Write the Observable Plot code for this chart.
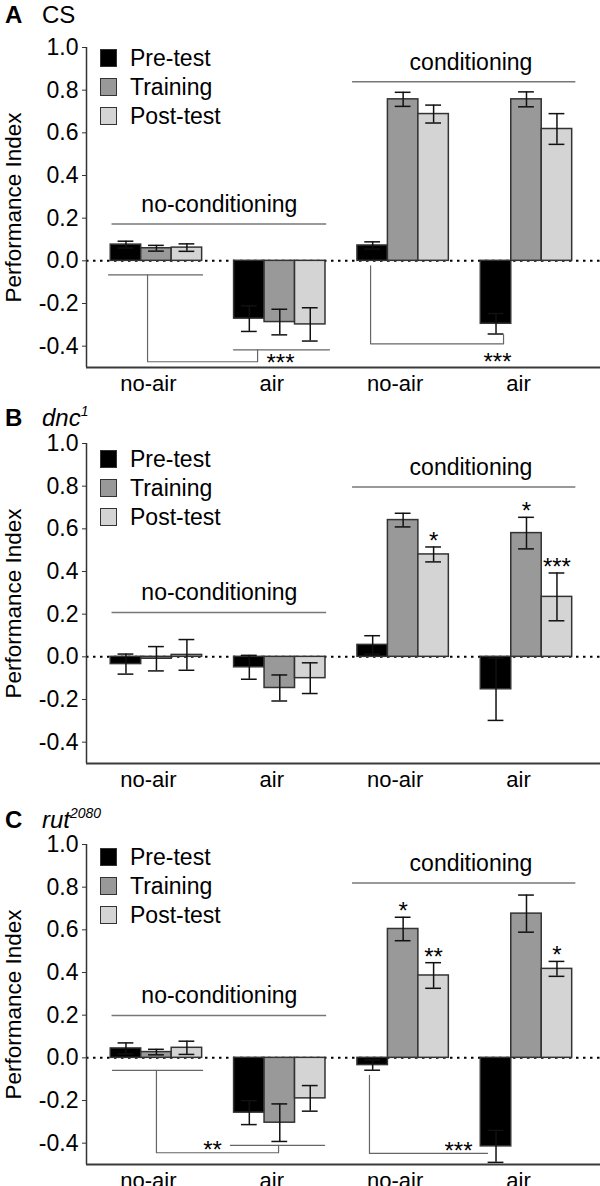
<!DOCTYPE html>
<html><head><meta charset="utf-8">
<script src="https://cdn.jsdelivr.net/npm/d3@7"></script>
<script src="https://cdn.jsdelivr.net/npm/@observablehq/plot@0.6"></script>
<style>
body{margin:0;background:#fff;}
#root{position:relative;width:600px;height:1186px;overflow:hidden;font-family:Arial,"Liberation Sans",sans-serif;color:#000;}
.title{position:absolute;left:5px;font-size:24px;line-height:24px;white-space:nowrap;}
.title b{display:inline-block;width:37px;}
.title sup{font-size:14px;position:relative;top:-10px;vertical-align:baseline;}
.row{position:absolute;left:100px;height:29px;display:flex;align-items:center;white-space:nowrap;font-size:23px;}
.sw{box-sizing:border-box;width:17px;height:18px;border:1.5px solid #333;margin-right:13px;}
.panel{position:absolute;left:0;}
</style></head>
<body><div id="root"></div>
<script>
// ---------- data ----------
const groups = ["no-air", "air", "no-air", "air"];
const series = ["Pre-test", "Training", "Post-test"];
const colors = ["#000000", "#999999", "#d4d4d4"];
const yTicks = [-0.4, -0.2, 0.0, 0.2, 0.4, 0.6, 0.8, 1.0];
const headerLabels = ["no-conditioning", "conditioning"];
const headerSpan = [[-0.36, 1.38], [1.59, 3.40]];
const headerTextX = [0.51, 2.55];

// Panel A (CS): rows = groups, columns = series
const meanA = [[0.076, 0.059, 0.062], [-0.271, -0.287, -0.298], [0.072, 0.757, 0.688], [-0.295, 0.757, 0.618]];
const semA  = [[0.016, 0.0135, 0.0175], [0.060, 0.060, 0.078], [0.017, 0.033, 0.042], [0.048, 0.035, 0.072]];
const headA = [0.173, 0.839];
const starsA = [];
const bracketA = [
  {id: 0, x: -0.388, y: -0.066}, {id: 0, x: 0.374, y: -0.066},
  {id: 1, x: -0.072, y: -0.066}, {id: 1, x: -0.072, y: -0.473}, {id: 1, x: 0.820, y: -0.473}, {id: 1, x: 0.820, y: -0.417},
  {id: 2, x: 0.625, y: -0.417}, {id: 2, x: 1.403, y: -0.417},
  {id: 3, x: 1.736, y: -0.023}, {id: 3, x: 1.736, y: -0.389}, {id: 3, x: 2.814, y: -0.389}, {id: 3, x: 2.814, y: -0.347}
];
const bracketTextA = [{x: 1.006, y: -0.453, label: "***"}, {x: 2.765, y: -0.448, label: "***"}];

// Panel B (dnc1)
const meanB = [[-0.034, -0.009, 0.009], [-0.049, -0.146, -0.100], [0.056, 0.641, 0.480], [-0.152, 0.580, 0.281]];
const semB  = [[0.047, 0.057, 0.072], [0.056, 0.061, 0.072], [0.043, 0.032, 0.035], [0.146, 0.074, 0.112]];
const headB = [0.208, 0.796];
const starsB = [{g: 2, s: 2, label: "*"}, {g: 3, s: 1, label: "*"}, {g: 3, s: 2, label: "***"}];
const bracketB = [];
const bracketTextB = [];

// Panel C (rut2080)
const meanC = [[0.044, 0.027, 0.047], [-0.257, -0.304, -0.190], [-0.034, 0.604, 0.386], [-0.415, 0.676, 0.417]];
const semC  = [[0.026, 0.013, 0.031], [0.056, 0.088, 0.060], [0.024, 0.055, 0.060], [0.075, 0.087, 0.035]];
const headC = [0.199, 0.819];
const starsC = [{g: 2, s: 1, label: "*"}, {g: 2, s: 2, label: "**"}, {g: 3, s: 2, label: "*"}];
const bracketC = [
  {id: 0, x: -0.356, y: -0.059}, {id: 0, x: 0.374, y: -0.059},
  {id: 1, x: 0.0, y: -0.059}, {id: 1, x: 0.0, y: -0.445}, {id: 1, x: 0.990, y: -0.445}, {id: 1, x: 0.990, y: -0.410},
  {id: 2, x: 0.599, y: -0.410}, {id: 2, x: 1.363, y: -0.410},
  {id: 3, x: 1.727, y: -0.082}, {id: 3, x: 1.727, y: -0.448}, {id: 3, x: 2.684, y: -0.448}
];
const bracketTextC = [{x: 0.455, y: -0.405, label: "**"}, {x: 2.449, y: -0.407, label: "***"}];

// ---------- layout ----------
const BW = 0.247, CAP = 0.064;
const XD = [-0.567, 3.6];
const FONT = 'Arial, "Liberation Sans", sans-serif';

const panels = [
  {top: 16.7, titleTop: 3, letter: "A", name: "CS", italic: false, sup: "", legendTop: 58, mean: meanA, sem: semA, head: headA, stars: starsA, br: bracketA, brt: bracketTextA},
  {top: 413.3, titleTop: 406, letter: "B", name: "dnc", italic: true, sup: "1", legendTop: 459, mean: meanB, sem: semB, head: headB, stars: starsB, br: bracketB, brt: bracketTextB},
  {top: 814, titleTop: 808, letter: "C", name: "rut", italic: true, sup: "2080", legendTop: 857, mean: meanC, sem: semC, head: headC, stars: starsC, br: bracketC, brt: bracketTextC}
];

const root = document.getElementById("root");

function makePlot(p) {
  const rows = [];
  p.mean.forEach((r, g) => r.forEach((v, s) => rows.push({
    g, s, series: series[s], v, e: p.sem[g][s],
    x1: g + (s - 1.5) * BW, x2: g + (s - 0.5) * BW, xc: g + (s - 1) * BW
  })));
  const starRows = p.stars.map(d => {
    const r = rows.find(q => q.g === d.g && q.s === d.s);
    return {x: r.xc, y: r.v + r.e, label: d.label};
  });
  const heads = headerLabels.map((label, i) => ({label, y: p.head[i], x1: headerSpan[i][0], x2: headerSpan[i][1], xt: headerTextX[i]}));
  return Plot.plot({
    width: 600, height: 384,
    marginTop: 30, marginBottom: 34, marginLeft: 86, marginRight: 0,
    style: {fontFamily: FONT, fontSize: "22px", color: "#000", background: "transparent", overflow: "visible"},
    x: {domain: XD, axis: null},
    y: {domain: [-0.5, 1.0], axis: null},
    color: {domain: series, range: colors},
    marks: [
      Plot.ruleY([0], {stroke: "#000", strokeWidth: 2, strokeDasharray: "2.5,4.5"}),
      Plot.rect(rows, {x1: "x1", x2: "x2", y1: 0, y2: "v", fill: "series", stroke: "#333", strokeWidth: 1.5}),
      Plot.ruleX(rows, {x: "xc", y1: d => d.v - d.e, y2: d => d.v + d.e, stroke: "#111", strokeWidth: 1.5}),
      Plot.ruleY(rows, {y: d => d.v + d.e, x1: d => d.xc - CAP, x2: d => d.xc + CAP, stroke: "#111", strokeWidth: 1.5}),
      Plot.ruleY(rows, {y: d => d.v - d.e, x1: d => d.xc - CAP, x2: d => d.xc + CAP, stroke: "#111", strokeWidth: 1.5}),
      Plot.text(starRows, {x: "x", y: "y", text: "label", lineAnchor: "bottom", dy: 2, fontSize: 24, fill: "#000"}),
      Plot.ruleY(heads, {y: "y", x1: "x1", x2: "x2", stroke: "#777", strokeWidth: 1.5}),
      Plot.text(heads, {x: "xt", y: "y", text: "label", lineAnchor: "bottom", dy: -12, fontSize: 23, fill: "#000"}),
      Plot.line(p.br, {x: "x", y: "y", z: "id", stroke: "#666", strokeWidth: 1.2, curve: "linear"}),
      Plot.text(p.brt, {x: "x", y: "y", text: "label", lineAnchor: "bottom", dy: 14, fontSize: 24, fill: "#000"}),
      Plot.axisY({ticks: yTicks, tickFormat: d => d.toFixed(1), tickSize: 4, tickPadding: 4, fontSize: 23, label: null, stroke: "#333", fill: "#000"}),
      Plot.axisX({ticks: [0, 1, 2, 3], tickFormat: i => groups[i], tickSize: 0, tickPadding: 8, fontSize: 22, label: null, dx: -8, fill: "#000"}),
      Plot.ruleX([XD[0]], {y1: -0.5, y2: 1.0, stroke: "#333", strokeWidth: 1.5}),
      Plot.ruleY([-0.5], {stroke: "#3a3a3a", strokeWidth: 2}),
      Plot.text(["Performance Index"], {text: d => d, frameAnchor: "left", textAnchor: "middle", rotate: -90, dx: -73, fontSize: 22.5, fill: "#000"})
    ]
  });
}

panels.forEach(p => {
  const wrap = document.createElement("div");
  wrap.className = "panel";
  wrap.style.top = p.top + "px";
  wrap.appendChild(makePlot(p));
  root.appendChild(wrap);

  const t = document.createElement("div");
  t.className = "title";
  t.style.top = p.titleTop + "px";
  const b = document.createElement("b");
  b.textContent = p.letter;
  t.appendChild(b);
  const n = document.createElement("span");
  if (p.italic) n.style.fontStyle = "italic";
  n.textContent = p.name;
  if (p.sup) {
    const s = document.createElement("sup");
    s.textContent = p.sup;
    n.appendChild(s);
  }
  t.appendChild(n);
  root.appendChild(t);

  series.forEach((name, i) => {
    const r = document.createElement("div");
    r.className = "row";
    r.style.top = (p.legendTop - 14.5 + i * 29) + "px";
    const sw = document.createElement("div");
    sw.className = "sw";
    sw.style.background = colors[i];
    r.appendChild(sw);
    const tx = document.createElement("span");
    tx.textContent = name;
    r.appendChild(tx);
    root.appendChild(r);
  });
});
</script>
</body></html>
